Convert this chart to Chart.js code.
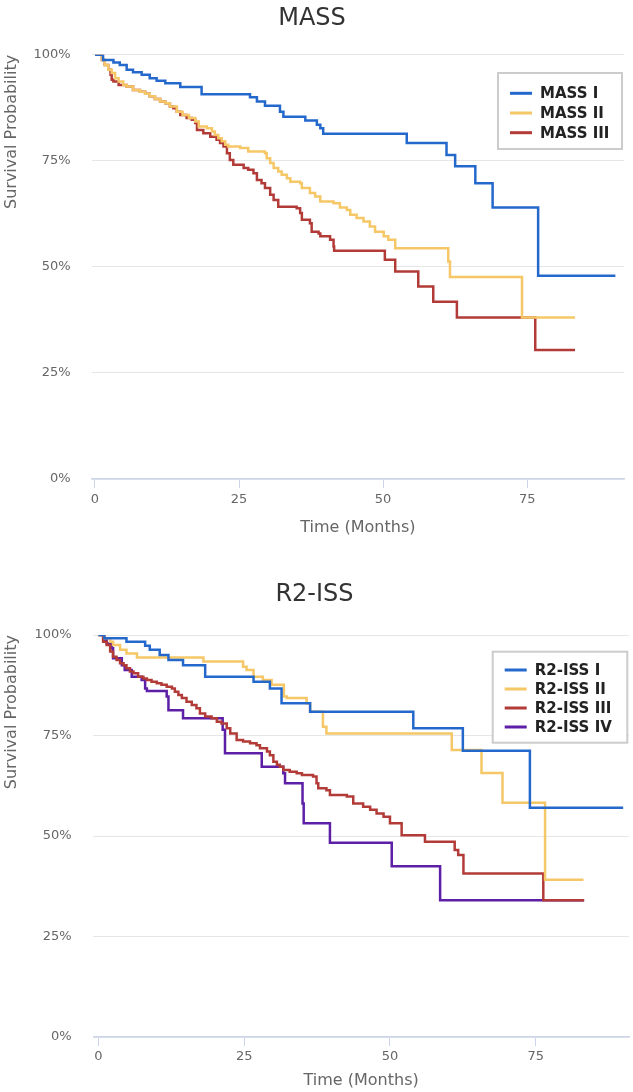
<!DOCTYPE html>
<html>
<head>
<meta charset="utf-8">
<title>MASS / R2-ISS survival</title>
<script src="https://cdn.jsdelivr.net/npm/chart.js@4.4.1/dist/chart.umd.min.js"></script>
<style>
  html, body { margin: 0; padding: 0; background: #fff; }
  .panel { position: relative; width: 633px; }
  #massPanel { height: 545px; }
  #rissPanel { height: 547px; }
</style>
</head>
<body>
<div class="panel" id="massPanel"><canvas id="massChart"></canvas></div>
<div class="panel" id="rissPanel"><canvas id="rissChart"></canvas></div>
<script>
// axis ticks shared by both panels
const monthTicks = [0, 25, 50, 75];
const survivalTicks = [0, 25, 50, 75, 100];

// MASS stages, [month, survival %] at each step
const massI = [[0,100],[1.4,98.8],[3.2,98.2],[4.3,97.6],[5.5,96.5],[6.6,95.9],[8.1,95.3],[9.5,94.5],[10.7,93.9],[12.2,93.3],[14.8,92.4],[18.5,90.7],[26.9,90.0],[28.1,89.0],[29.5,88.0],[32.1,86.6],[32.7,85.4],[36.5,84.5],[38.5,83.5],[39.1,82.7],[39.6,81.4],[54.1,79.2],[61.0,76.4],[62.5,73.7],[66.0,69.7],[69.0,64.0],[76.9,47.9],[90.3,47.9]];
const massII = [[0,100],[1.2,98.8],[1.7,97.6],[2.3,96.5],[2.9,95.7],[3.5,94.5],[4.1,93.7],[4.9,92.9],[5.5,92.5],[6.6,91.7],[7.8,91.3],[8.7,90.8],[9.5,90.2],[10.4,89.6],[11.3,89.0],[12.2,88.6],[13.0,87.8],[14.2,86.6],[15.2,85.8],[16.3,85.1],[17.4,84.3],[18.0,83.1],[19.4,82.7],[20.3,81.9],[20.8,81.1],[21.4,80.3],[22.0,79.6],[22.6,78.8],[23.1,78.4],[25.2,78.0],[26.6,77.2],[29.5,76.8],[29.8,75.6],[30.4,74.5],[31.0,73.3],[31.8,72.5],[32.4,71.7],[33.3,70.9],[33.9,70.1],[35.6,69.7],[35.9,68.6],[37.3,67.4],[38.2,66.6],[39.1,65.4],[41.4,65.0],[42.5,64.0],[43.7,63.4],[44.3,62.3],[45.4,61.5],[46.6,60.7],[47.7,59.5],[48.6,58.3],[50.1,57.2],[50.9,56.4],[52.1,54.4],[61.3,51.3],[61.6,47.6],[74.1,38.1],[83.3,38.1]];
const massIII = [[0,100],[1.2,98.8],[1.7,97.6],[2.3,96.5],[2.7,95.3],[2.9,94.1],[3.2,93.7],[4.1,92.9],[5.5,92.5],[6.6,91.7],[7.8,91.3],[8.7,90.8],[9.5,90.2],[10.4,89.6],[11.3,89.0],[12.2,88.6],[13.0,87.8],[13.6,87.4],[14.2,86.6],[14.8,85.8],[15.9,85.1],[16.8,84.7],[17.4,83.9],[17.7,82.3],[18.8,81.5],[20.0,80.7],[21.1,80.0],[21.7,79.2],[22.3,78.4],[22.9,76.8],[23.4,75.2],[24.0,74.1],[25.8,73.3],[26.6,72.9],[27.5,72.1],[28.1,70.5],[28.9,69.7],[29.5,68.6],[30.4,67.0],[31.0,65.8],[31.8,64.2],[35.0,63.8],[35.6,62.7],[35.9,61.1],[37.3,60.3],[37.6,58.3],[38.8,57.9],[39.1,57.2],[40.8,56.4],[41.4,54.8],[41.5,53.8],[50.3,51.7],[52.1,48.9],[56.1,45.4],[58.7,41.8],[62.8,38.1],[76.4,30.4],[83.3,30.4]];

// R2-ISS stages
const rissI = [[0,100],[1.0,99.2],[4.8,98.3],[8.0,97.3],[8.8,96.3],[10.5,95.0],[12.0,93.8],[14.5,92.5],[18.3,89.6],[26.6,88.4],[29.4,86.7],[31.4,83.0],[36.3,80.9],[54.0,76.8],[62.5,71.2],[74.0,57.0],[90.0,57.0]];
const rissII = [[0,100],[1.1,99.2],[2.0,98.3],[2.5,97.5],[3.7,96.3],[4.8,95.4],[6.6,94.4],[18.0,93.4],[24.8,92.1],[25.4,91.3],[26.6,89.6],[28.2,88.8],[29.7,87.6],[31.8,84.7],[32.3,84.3],[35.7,83.0],[36.3,80.9],[38.5,77.2],[39.1,75.5],[60.6,71.4],[65.7,65.7],[69.3,58.3],[76.6,39.1],[83.2,39.1]];
const rissIII = [[0,100],[0.8,98.3],[1.4,97.5],[2.0,95.9],[2.5,94.6],[3.1,93.8],[3.7,93.0],[4.3,92.5],[4.8,91.7],[5.4,90.9],[6.0,90.5],[6.8,89.6],[7.7,89.2],[8.3,88.8],[9.1,88.4],[10.0,88.0],[10.8,87.6],[11.7,87.1],[12.6,86.7],[13.1,85.9],[13.7,85.1],[14.3,84.3],[15.1,83.4],[16.0,82.6],[16.8,81.8],[17.4,80.5],[18.3,79.7],[19.4,79.3],[20.3,78.4],[21.1,78.0],[22.0,76.8],[22.6,75.5],[23.7,73.9],[24.8,73.5],[26.0,73.1],[27.1,72.6],[27.7,71.8],[28.9,71.0],[29.4,70.1],[30.0,68.5],[30.6,67.7],[31.1,67.2],[31.7,66.4],[32.8,66.0],[34.0,65.6],[34.9,65.2],[36.8,64.8],[37.4,63.1],[37.7,61.9],[39.1,61.4],[39.7,60.2],[42.6,59.8],[43.7,58.1],[45.4,57.3],[46.6,56.5],[47.7,55.6],[48.9,54.8],[50.0,53.2],[52.0,50.2],[56.0,48.6],[61.1,46.5],[61.7,45.3],[62.6,40.7],[76.3,34.0],[83.3,34.0]];
const rissIV = [[0,100],[0.8,98.8],[1.4,97.9],[2.3,96.7],[2.5,94.2],[4.0,92.5],[4.5,91.3],[5.7,89.6],[7.4,88.8],[8.0,86.7],[8.3,86.1],[11.7,84.7],[12.0,81.3],[14.5,79.3],[21.3,76.4],[21.7,70.6],[28.0,67.2],[31.7,65.6],[32.0,63.1],[35.0,58.1],[35.2,53.2],[39.7,48.3],[50.3,42.5],[58.6,34.0],[83.3,34.0]];

const FONT = '"DejaVu Sans", sans-serif';

// boxed legend drawn inside the plot, like the original
const boxLegend = {
  id: 'boxLegend',
  afterDatasetsDraw(chart, args, opts) {
    const ctx = chart.ctx;
    const { x, y, w, h, firstRow, rowGap } = opts;
    ctx.save();
    ctx.fillStyle = '#ffffff';
    ctx.fillRect(x, y, w, h);
    ctx.strokeStyle = '#cccccc';
    ctx.lineWidth = 2;
    ctx.strokeRect(x, y, w, h);
    ctx.font = 'bold 15px ' + FONT;
    ctx.textBaseline = 'middle';
    chart.data.datasets.forEach((ds, i) => {
      const cy = y + firstRow + i * rowGap;
      ctx.strokeStyle = ds.borderColor;
      ctx.lineWidth = 3;
      ctx.beginPath();
      ctx.moveTo(x + 12, cy);
      ctx.lineTo(x + 34, cy);
      ctx.stroke();
      ctx.fillStyle = '#222222';
      ctx.fillText(ds.label, x + 42, cy + 1);
    });
    ctx.restore();
  }
};

function makeKMChart(canvasId, title, series, cfg) {
  const datasets = series.map(s => ({
    label: s.label,
    data: s.points.map(([t, v]) => ({ x: t, y: v })),
    borderColor: s.color,
    backgroundColor: s.color,
    borderWidth: 2.5,
    pointRadius: 0,
    stepped: true,
    fill: false
  }));

  return new Chart(document.getElementById(canvasId), {
    type: 'line',
    data: { datasets },
    plugins: [boxLegend],
    options: {
      responsive: true,
      maintainAspectRatio: false,
      animation: false,
      layout: { padding: { left: 0, right: cfg.padRight, top: 0, bottom: 0 } },
      plugins: {
        legend: { display: false },
        tooltip: { enabled: false },
        title: {
          display: true,
          text: title,
          color: '#333333',
          font: { family: FONT, size: 24, weight: 'normal' },
          padding: cfg.titlePad
        },
        boxLegend: cfg.legend
      },
      scales: {
        x: {
          type: 'linear',
          min: cfg.xMin,
          max: cfg.xMax,
          afterBuildTicks: scale => { scale.ticks = monthTicks.map(v => ({ value: v })); },
          afterFit: scale => { scale.height = cfg.xHeight; },
          grid: { drawOnChartArea: false, drawTicks: true, tickLength: 9, color: '#ccd6eb' },
          border: { display: true, color: '#ccd6eb', width: 1.5 },
          ticks: { color: '#666666', font: { family: FONT, size: 13 }, padding: cfg.xTickPad, maxRotation: 0 },
          title: {
            display: true,
            text: 'Time (Months)',
            color: '#666666',
            font: { family: FONT, size: 16 },
            padding: { top: 0, bottom: cfg.xTitleBottom }
          }
        },
        y: {
          min: 0,
          max: 100,
          afterBuildTicks: scale => { scale.ticks = survivalTicks.map(v => ({ value: v })); },
          afterFit: scale => { scale.width = cfg.yWidth; },
          grid: { color: '#e6e6e6', drawTicks: false },
          border: { display: false },
          ticks: { color: '#666666', font: { family: FONT, size: 13 }, padding: cfg.yTickPad, callback: v => v + '%' },
          title: {
            display: true,
            text: 'Survival Probability',
            align: 'end',
            color: '#666666',
            font: { family: FONT, size: 16 },
            padding: { top: 2, bottom: 0 }
          }
        }
      }
    }
  });
}

makeKMChart('massChart', 'MASS', [
  { label: 'MASS I', points: massI, color: '#2468cc' },
  { label: 'MASS II', points: massII, color: '#f5c766' },
  { label: 'MASS III', points: massIII, color: '#b23b38' }
], {
  padRight: 9, xMin: -0.57, xMax: 91.8, xHeight: 66, xTickPad: 4, xTitleBottom: 8,
  yWidth: 91.7, yTickPad: 21,
  titlePad: { top: 4, bottom: 22 },
  legend: { x: 498, y: 73, w: 124, h: 76, firstRow: 20.3, rowGap: 19.7 }
});

makeKMChart('rissChart', 'R2-ISS', [
  { label: 'R2-ISS I', points: rissI, color: '#2468cc' },
  { label: 'R2-ISS II', points: rissII, color: '#f5c766' },
  { label: 'R2-ISS III', points: rissIII, color: '#b23b38' },
  { label: 'R2-ISS IV', points: rissIV, color: '#5c1fa6' }
], {
  padRight: 4, xMin: -0.89, xMax: 91.0, xHeight: 55, xTickPad: 3, xTitleBottom: 2,
  yWidth: 93.3, yTickPad: 21.6,
  titlePad: { top: 35.6, bottom: 25.6 },
  legend: { x: 492.7, y: 106.7, w: 134.6, h: 91, firstRow: 18.3, rowGap: 19 }
});
</script>
</body>
</html>
